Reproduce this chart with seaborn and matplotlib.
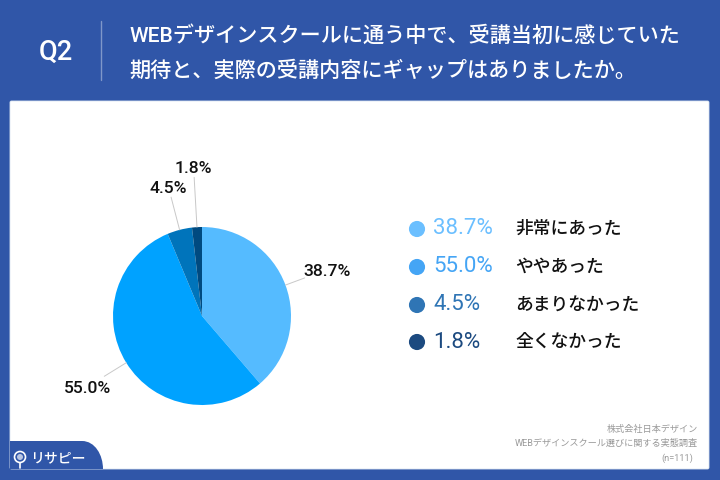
import matplotlib
matplotlib.use('Agg')
import matplotlib.pyplot as plt
from matplotlib.patches import FancyBboxPatch, PathPatch, Circle
from matplotlib.path import Path
import numpy as np
import pandas as pd
import seaborn as sns

# data
answers = ['非常にあった', 'ややあった', 'あまりなかった', '全くなかった']
shares = [38.7, 55.0, 4.5, 1.8]
share_labels = ['38.7%', '55.0%', '4.5%', '1.8%']
pie_colors = ['#55BBFF', '#00A2FF', '#0074BB', '#004A80']
legend_colors = ['#6BBFFF', '#45A5F5', '#2F75B5', '#1C4A80']
question = 'Q2'
title_lines = ['WEBデザインスクールに通う中で、受講当初に感じていた',
               '期待と、実際の受講内容にギャップはありましたか。']
source_lines = ['株式会社日本デザイン', 'WEBデザインスクール選びに関する実態調査', '(n=111)']

sns.set_theme(style='white')
plt.rcParams['font.family'] = ['Roboto', 'Noto Sans CJK JP', 'DejaVu Sans']

BLUE = '#3056A8'
fig = plt.figure(figsize=(7.2, 4.8), dpi=100, facecolor=BLUE)

# whole figure axes, in pixels, for the frame and the text
bg = fig.add_axes([0, 0, 1, 1])
bg.set_xlim(0, 720)
bg.set_ylim(480, 0)
bg.axis('off')

bg.add_patch(FancyBboxPatch((10, 101), 699, 368, boxstyle='round,pad=0,rounding_size=1.5',
                            fc='white', ec='#DCE6F2', lw=0.6))
bg.plot([101, 101], [21, 80], color='#7F97C9', lw=1)
bg.text(56, 52, question, color='white', fontsize=19.5, fontweight='medium', ha='center', va='center')
bg.text(129, 35, title_lines[0], color='white', fontsize=15.2, fontweight='medium', va='center')
bg.text(129, 70, title_lines[1], color='white', fontsize=15.2, fontweight='medium', va='center')

# logo tab, bottom left
tab = Path([(10, 469), (10, 441), (82, 441), (95, 441), (103, 455), (103, 469), (10, 469)],
           [Path.MOVETO, Path.LINETO, Path.LINETO, Path.CURVE4, Path.CURVE4, Path.CURVE4, Path.CLOSEPOLY])
bg.add_patch(PathPatch(tab, fc=BLUE, ec='none'))
bg.add_patch(Circle((20, 457), 5.5, fc='none', ec='white', lw=1.2))
bg.add_patch(Circle((20, 457), 3, fc='#B9C6E2', ec='none'))
bg.plot([20, 20], [462.5, 468], color='white', lw=1.2)
bg.text(58, 458, 'リサピー', color='white', fontsize=10, fontweight='medium', ha='center', va='center')

for x, y, line in zip([698, 698, 693], [429, 443, 458], source_lines):
    bg.text(x, y, line, color='#9A9A9A', fontsize=6.6, ha='right', va='center')

# legend, dots go through seaborn
rows = [229, 267, 305, 342]
legend_df = pd.DataFrame({'answer': answers, 'row': rows, 'x': [417] * 4})
sns.scatterplot(data=legend_df, x='x', y='row', hue='answer', palette=legend_colors,
                s=135, linewidth=0, legend=False, ax=bg)
bg.set_xlim(0, 720)
bg.set_ylim(480, 0)
bg.set_xlabel('')
bg.set_ylabel('')
for y, lab, ans, col in zip(rows, share_labels, answers, legend_colors):
    bg.text(433, y, lab, color=col, fontsize=16, va='center')
    bg.text(515, y, ans, color='#111111', fontsize=12.8, fontweight='medium', va='center')

# pie, centre (202,316) radius 89 px
cx, cy, r = 202, 316, 89
ax = fig.add_axes([(cx - r) / 720, (480 - cy - r) / 480, 2 * r / 720, 2 * r / 480])
ax.pie(shares, colors=pie_colors, startangle=90, counterclock=False, radius=1,
       wedgeprops={'linewidth': 0, 'edgecolor': 'none'})
ax.set_xlim(-1, 1)
ax.set_ylim(-1, 1)
ax.patch.set_alpha(0)

# leader lines and labels on each slice's mid angle
line_ends = [1.23, 1.29, 1.38, 1.56]
text_radii = [1.5, 1.51, 1.5, 1.68]
mids = (np.cumsum(shares) - np.array(shares) / 2) / sum(shares) * 2 * np.pi
for mid, end, tr, lab in zip(mids, line_ends, text_radii, share_labels):
    sx, cs = np.sin(mid), np.cos(mid)
    ax.plot([sx, end * sx], [cs, end * cs], color='#C8C8C8', lw=0.7, clip_on=False)
    ax.text(tr * sx, tr * cs - 0.02, lab, color='#111111', fontsize=12.6, fontweight='medium',
            ha='center', va='center', clip_on=False)

fig.savefig('out.png', dpi=100, facecolor=BLUE)
